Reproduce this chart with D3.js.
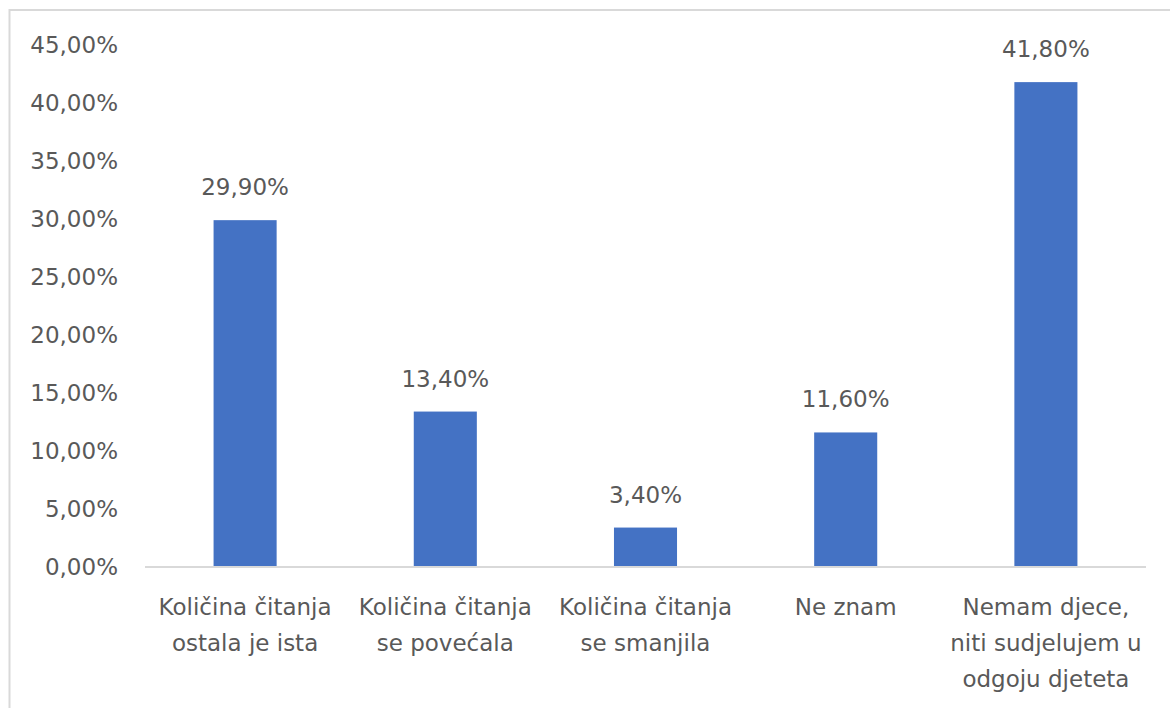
<!DOCTYPE html>
<html>
<head>
<meta charset="utf-8">
<script src="https://cdn.jsdelivr.net/npm/d3@7"></script>
<style>
  body { margin: 0; background: #fff; }
  svg { display: block; }
</style>
</head>
<body>
<svg id="chart"></svg>
<script>
const categories = [
  ["Količina čitanja", "ostala je ista"],
  ["Količina čitanja", "se povećala"],
  ["Količina čitanja", "se smanjila"],
  ["Ne znam"],
  ["Nemam djece,", "niti sudjelujem u", "odgoju djeteta"]
];
const values = [29.9, 13.4, 3.4, 11.6, 41.8];
const yTicks = [0, 5, 10, 15, 20, 25, 30, 35, 40, 45];

const width = 1170;
const height = 708;
const margin = {top: 45, right: 24, bottom: 141, left: 145};
const font = "'DejaVu Sans', sans-serif";
const fontSize = 23;
const textColor = "#595959";

const svg = d3.select("#chart")
    .attr("width", width)
    .attr("height", height);

// chart frame
svg.append("rect")
    .attr("x", 9.5).attr("y", 10)
    .attr("width", width + 20).attr("height", height + 20)
    .attr("fill", "none")
    .attr("stroke", "#d9d9d9")
    .attr("stroke-width", 2);

const x = d3.scaleBand()
    .domain(d3.range(categories.length))
    .range([margin.left, width - margin.right])
    .paddingInner(0.685)
    .paddingOuter(0.3425);

const y = d3.scaleLinear()
    .domain([0, 45])
    .range([height - margin.bottom, margin.top]);

const fmt = v => v.toFixed(2).replace(".", ",") + "%";

// y axis labels (no axis line)
const yAxis = svg.append("g")
    .attr("transform", `translate(${margin.left - 27},0)`)
    .call(d3.axisLeft(y).tickValues(yTicks).tickFormat(fmt).tickSize(0).tickPadding(0));
yAxis.select(".domain").remove();
yAxis.selectAll("text")
    .attr("font-family", font)
    .attr("font-size", fontSize)
    .attr("fill", textColor);

// bars
svg.append("g")
    .selectAll("rect")
    .data(values)
    .join("rect")
    .attr("x", (d, i) => x(i))
    .attr("y", d => y(d))
    .attr("width", x.bandwidth())
    .attr("height", d => y(0) - y(d))
    .attr("fill", "#4472c4");

// baseline
svg.append("line")
    .attr("x1", margin.left).attr("x2", width - margin.right)
    .attr("y1", y(0)).attr("y2", y(0))
    .attr("stroke", "#d9d9d9")
    .attr("stroke-width", 2);

// value labels
svg.append("g")
    .selectAll("text")
    .data(values)
    .join("text")
    .attr("x", (d, i) => x(i) + x.bandwidth() / 2)
    .attr("y", d => y(d) - 25)
    .attr("text-anchor", "middle")
    .attr("font-family", font)
    .attr("font-size", fontSize)
    .attr("fill", textColor)
    .text(d => fmt(d));

// category labels
const catG = svg.append("g")
    .selectAll("text")
    .data(categories)
    .join("text")
    .attr("text-anchor", "middle")
    .attr("font-family", font)
    .attr("font-size", fontSize)
    .attr("fill", textColor);

catG.selectAll("tspan")
    .data((d, i) => d.map(line => ({line, i})))
    .join("tspan")
    .attr("x", d => x(d.i) + x.bandwidth() / 2)
    .attr("y", (d, j) => y(0) + 48 + j * 36)
    .text(d => d.line);
</script>
</body>
</html>
